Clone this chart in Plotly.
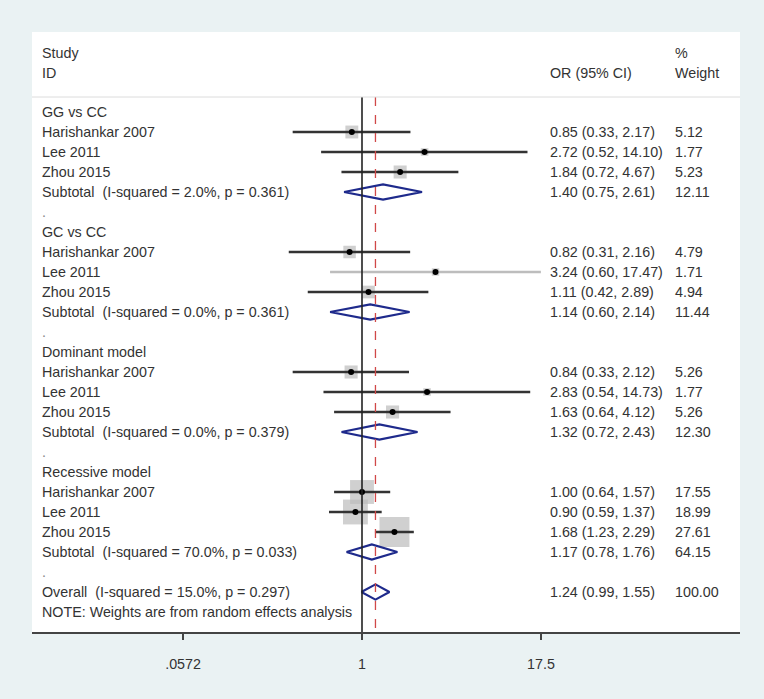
import plotly.graph_objects as go

# ---------------- data ----------------
groups = ["GG vs CC", "GC vs CC", "Dominant model", "Recessive model"]
studies = ["Harishankar 2007", "Lee 2011", "Zhou 2015"]
study_or = [[0.85, 2.72, 1.84], [0.82, 3.24, 1.11], [0.84, 2.83, 1.63], [1.00, 0.90, 1.68]]
study_lo = [[0.33, 0.52, 0.72], [0.31, 0.60, 0.42], [0.33, 0.54, 0.64], [0.64, 0.59, 1.23]]
study_hi = [[2.17, 14.10, 4.67], [2.16, 17.47, 2.89], [2.12, 14.73, 4.12], [1.57, 1.37, 2.29]]
study_w = [[5.12, 1.77, 5.23], [4.79, 1.71, 4.94], [5.26, 1.77, 5.26], [17.55, 18.99, 27.61]]
sub_or = [1.40, 1.14, 1.32, 1.17]
sub_lo = [0.75, 0.60, 0.72, 0.78]
sub_hi = [2.61, 2.14, 2.43, 1.76]
sub_w = [12.11, 11.44, 12.30, 64.15]
sub_i2 = [2.0, 0.0, 0.0, 70.0]
sub_p = [0.361, 0.361, 0.379, 0.033]
overall_or, overall_lo, overall_hi, overall_w = 1.24, 0.99, 1.55, 100.00
overall_i2, overall_p = 15.0, 0.297
tick_vals = [0.0572, 1, 17.5]
tick_text = [".0572", "1", "17.5"]
note = "NOTE: Weights are from random effects analysis"

# ---------------- style ----------------
FONT = "Liberation Sans, Arial, sans-serif"
TXT = "#333333"
FS = 14.3
NAVY = "#1e2a8c"
X_LAB, X_OR, X_W = 0.0113, 0.7288, 0.905

fig = go.Figure()
ann = []

def txt(x, y, s, color=TXT):
    ann.append(dict(x=x, y=y, xref="paper", yref="y", text=s, showarrow=False,
                    xanchor="left", yanchor="middle",
                    font=dict(family=FONT, size=FS, color=color)))

# header
txt(X_LAB, -2.95, "Study")
txt(X_LAB, -1.95, "ID")
txt(X_OR, -1.95, "OR (95% CI)")
txt(X_W, -2.95, "%")
txt(X_W, -1.95, "Weight")

box_x, box_y, box_s = [], [], []
dot_x, dot_y = [], []
row = 0
for g in range(len(groups)):
    txt(X_LAB, row, groups[g])
    row += 1
    for s in range(len(studies)):
        txt(X_LAB, row, studies[s])
        txt(X_OR, row, f"{study_or[g][s]:.2f} ({study_lo[g][s]:.2f}, {study_hi[g][s]:.2f})")
        txt(X_W, row, f"{study_w[g][s]:.2f}")
        box_x.append(study_or[g][s]); box_y.append(row)
        box_s.append(5.7 * study_w[g][s] ** 0.5)
        dot_x.append(study_or[g][s]); dot_y.append(row)
        lc = "#bdbdbd" if (g == 1 and s == 1) else "#333333"
        fig.add_trace(go.Scatter(x=[study_lo[g][s], study_hi[g][s]], y=[row, row],
                                 mode="lines", line=dict(color=lc, width=2.6),
                                 hoverinfo="skip", showlegend=False))
        row += 1
    txt(X_LAB, row, f"Subtotal  (I-squared = {sub_i2[g]:.1f}%, p = {sub_p[g]:.3f})")
    txt(X_OR, row, f"{sub_or[g]:.2f} ({sub_lo[g]:.2f}, {sub_hi[g]:.2f})")
    txt(X_W, row, f"{sub_w[g]:.2f}")
    fig.add_trace(go.Scatter(x=[sub_lo[g], sub_or[g], sub_hi[g], sub_or[g], sub_lo[g]],
                             y=[row, row - 0.38, row, row + 0.38, row],
                             mode="lines", line=dict(color=NAVY, width=2.2),
                             hoverinfo="skip", showlegend=False))
    row += 1
    txt(X_LAB, row, ".", "#888888")
    row += 1

txt(X_LAB, row, f"Overall  (I-squared = {overall_i2:.1f}%, p = {overall_p:.3f})")
txt(X_OR, row, f"{overall_or:.2f} ({overall_lo:.2f}, {overall_hi:.2f})")
txt(X_W, row, f"{overall_w:.2f}")
fig.add_trace(go.Scatter(x=[overall_lo, overall_or, overall_hi, overall_or, overall_lo],
                         y=[row, row - 0.38, row, row + 0.38, row],
                         mode="lines", line=dict(color=NAVY, width=2.2),
                         hoverinfo="skip", showlegend=False))
row += 1
txt(X_LAB, row, note)

# boxes under lines
fig.add_trace(go.Scatter(x=box_x, y=box_y, mode="markers",
                         marker=dict(symbol="square", size=box_s, color="#bcbcbc",
                                     line=dict(width=0)),
                         hoverinfo="skip", showlegend=False))
fig.data = (fig.data[-1],) + fig.data[:-1]
fig.add_trace(go.Scatter(x=dot_x, y=dot_y, mode="markers",
                         marker=dict(symbol="circle", size=6, color="black"),
                         hoverinfo="skip", showlegend=False))

# null line and overall dashed line
fig.add_trace(go.Scatter(x=[1, 1], y=[-0.75, 26], mode="lines",
                         line=dict(color="#222222", width=1.6),
                         hoverinfo="skip", showlegend=False))
fig.add_trace(go.Scatter(x=[overall_or, overall_or], y=[-0.75, 26], mode="lines",
                         line=dict(color="#d04848", width=1.3, dash="dash"),
                         hoverinfo="skip", showlegend=False))

# header separator
fig.add_shape(type="line", xref="paper", yref="y", x0=0, x1=1, y0=-0.75, y1=-0.75,
              line=dict(color="#dcdcdc", width=1))

fig.update_layout(
    width=764, height=699,
    margin=dict(l=32, r=24, t=32, b=67),
    paper_bgcolor="#EAF2F3", plot_bgcolor="white",
    annotations=ann,
    xaxis=dict(type="log", range=[-2.2917, 2.625], tickvals=tick_vals, ticktext=tick_text,
               showgrid=False, zeroline=False, showline=True, linecolor="#444444",
               linewidth=1.5, ticks="outside", ticklen=6, tickwidth=1.5, tickcolor="#444444",
               tickfont=dict(family=FONT, size=FS, color=TXT), ticklabelstandoff=12,
               fixedrange=True),
    yaxis=dict(range=[26, -4], visible=False, fixedrange=True),
)

fig.write_html("out.html", config={"displayModeBar": False},
               post_script="document.body.style.margin='0';"
                           "document.body.style.background='#EAF2F3';")
